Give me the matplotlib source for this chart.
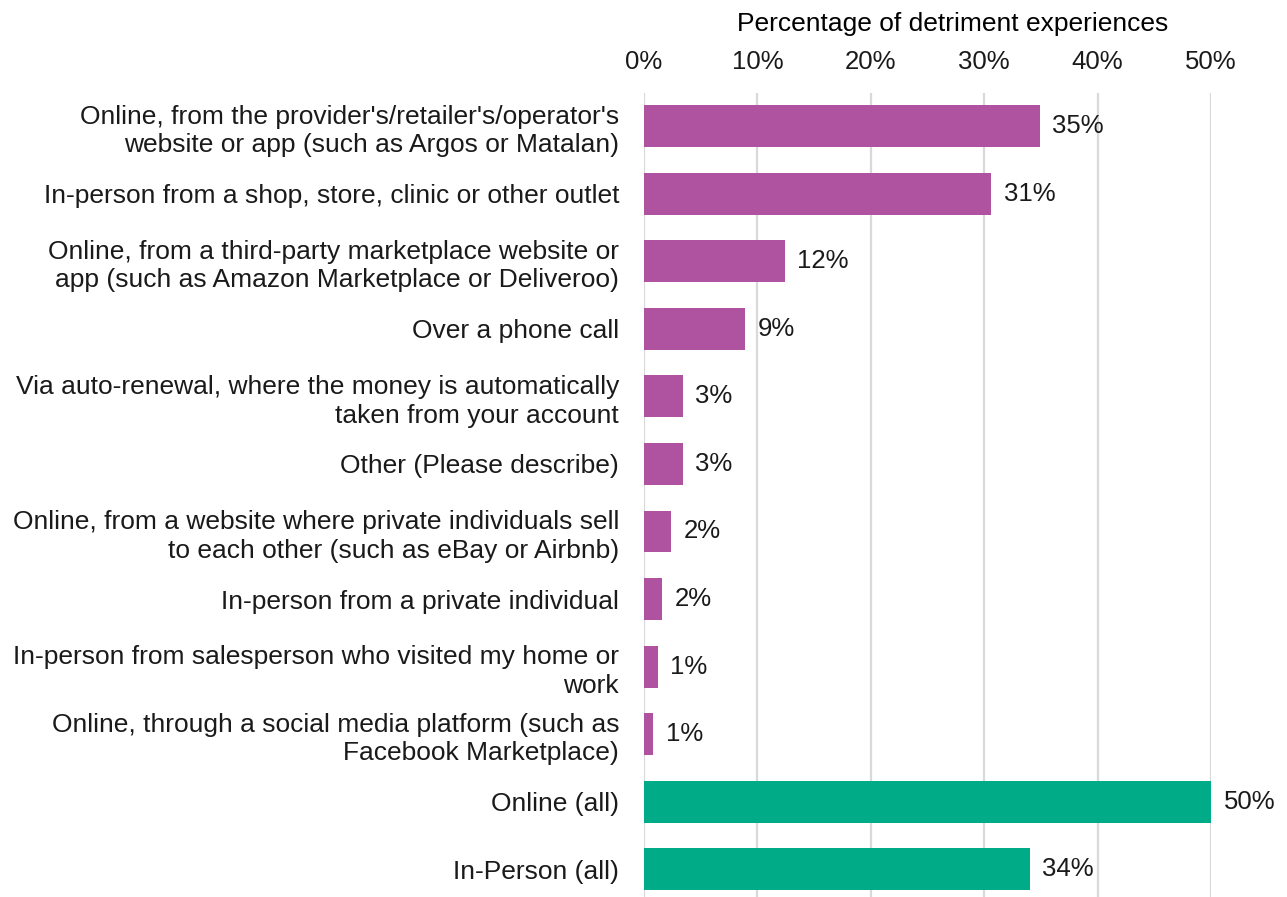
import numpy as np
import matplotlib.pyplot as plt
from matplotlib.ticker import PercentFormatter

plt.rcParams['font.family'] = ['Liberation Sans', 'DejaVu Sans']
plt.rcParams['font.size'] = 19

categories = [
    "Online, from the provider's/retailer's/operator's\nwebsite or app (such as Argos or Matalan)",
    "In-person from a shop, store, clinic or other outlet",
    "Online, from a third-party marketplace website or\napp (such as Amazon Marketplace or Deliveroo)",
    "Over a phone call",
    "Via auto-renewal, where the money is automatically\ntaken from your account",
    "Other (Please describe)",
    "Online, from a website where private individuals sell\nto each other (such as eBay or Airbnb)",
    "In-person from a private individual",
    "In-person from salesperson who visited my home or\nwork",
    "Online, through a social media platform (such as\nFacebook Marketplace)",
    "Online (all)",
    "In-Person (all)",
]
shares = [34.9, 30.6, 12.4, 8.9, 3.4, 3.4, 2.4, 1.6, 1.2, 0.8, 50.0, 34.0]
groups = ['channel'] * 10 + ['total'] * 2

palette = {'channel': '#AF529F', 'total': '#00AB87'}
colors = [palette[g] for g in groups]

fig = plt.figure(figsize=(12.87, 8.97), dpi=100)
ax = fig.add_axes([0.5004, 0.0, 0.4406, 0.8963])

y = np.arange(len(categories))
bars = ax.barh(y, shares, height=0.62, color=colors, zorder=3)

for b, v in zip(bars, shares):
    ax.annotate(f'{v:.0f}%', (b.get_width(), b.get_y() + b.get_height() / 2),
                xytext=(9, 0), textcoords='offset points',
                va='center', ha='left', fontsize=18.5, color='#1a1a1a')

ax.set_xlim(0, 50)
ax.set_ylim(11.41, -0.49)
ax.set_yticks(y)
ax.set_yticklabels(categories, linespacing=1.25)
ax.set_xticks(np.arange(0, 51, 10))
ax.xaxis.set_major_formatter(PercentFormatter(decimals=0))
ax.xaxis.tick_top()
ax.xaxis.set_label_position('top')
ax.set_xlabel('Percentage of detriment experiences', labelpad=14)
ax.xaxis.label.set_x(0.545)

ax.tick_params(axis='both', length=0, colors='#1a1a1a')
ax.tick_params(axis='x', pad=13.5, labelsize=18.5)
ax.tick_params(axis='y', pad=18)
ax.grid(axis='x', color='#D9D9D9', linewidth=1.6, zorder=0)
for s in ax.spines.values():
    s.set_visible(False)

fig.savefig('out.png', dpi=100)
